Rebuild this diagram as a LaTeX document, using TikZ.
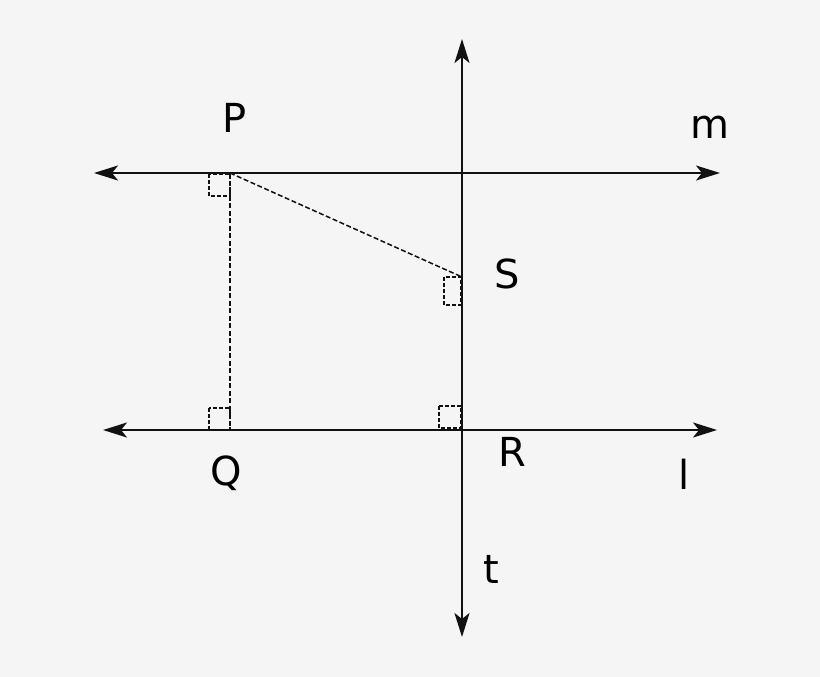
\documentclass[tikz,border=0pt]{standalone}
\usepackage{fontspec}
\setmainfont{DejaVu Sans}
\usetikzlibrary{arrows.meta}
\definecolor{bg}{HTML}{F5F5F5}
\definecolor{ink}{HTML}{111111}
\tikzset{
  tipshape/.tip={Stealth[length=24pt,width=15pt,inset=6pt]},
  axisline/.style={draw=ink, line width=2.2pt, tipshape-tipshape},
  dashline/.style={draw=ink, line width=1.5pt, dash pattern=on 5pt off 2.5pt},
  rightmark/.style={draw=ink, line width=1.5pt, dash pattern=on 4pt off 2pt},
  lbl/.style={inner sep=0pt, anchor=base, text=black, font=\fontsize{40}{48}\selectfont}
}
\begin{document}
\begin{tikzpicture}[x=1pt,y=-1pt]
\useasboundingbox[fill=bg] (0,0) rectangle (820,677);
% points
\coordinate (P) at (230,173);
\coordinate (Q) at (230,430);
\coordinate (S) at (462,277);
\coordinate (R) at (462,430);
\coordinate (mL) at (94,173);
\coordinate (mR) at (720,173);
\coordinate (lL) at (103,430);
\coordinate (lR) at (717,430);
\coordinate (tT) at (462,39);
\coordinate (tB) at (462,637);
% dashed segments
\draw[dashline] (P) -- (Q);
\draw[dashline] (P) -- (S);
% right-angle marks
\draw[rightmark] (209,174) rectangle (230,196);
\draw[rightmark] (444,277) rectangle (461,305);
\draw[rightmark] (209,408) rectangle (230,430);
\draw[rightmark] (439,406) rectangle (461,428);
% lines
\draw[axisline] (mL) -- (mR);
\draw[axisline] (lL) -- (lR);
\draw[axisline] (tT) -- (tB);
% labels
\node[lbl] (labP) at (235,132) {P};
\node[lbl] (labm) at (710,139) {m};
\node[lbl] (labS) at (507,288) {S};
\node[lbl] (labR) at (512,466) {R};
\node[lbl] (labQ) at (226,485) {Q};
\node[lbl] (labl) at (684,489) {l};
\node[lbl] (labt) at (491,583) {t};
\end{tikzpicture}
\end{document}
